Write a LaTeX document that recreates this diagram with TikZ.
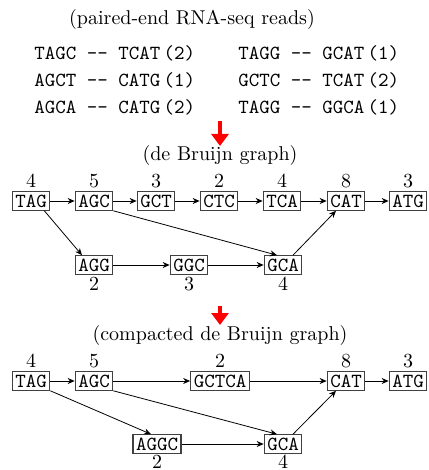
\documentclass[tikz,border=0pt]{standalone}
\usetikzlibrary{arrows.meta}
\begin{document}
\begin{tikzpicture}[x=0.5pt,y=-0.5pt,
  kmer/.style={draw=black!75,line width=0.6pt,font=\ttfamily,inner sep=1.5pt,text height=6.2pt,text depth=0pt},
  edge/.style={-{Stealth[length=3.5pt,width=3pt]},line width=0.4pt},
  bigarrow/.style={red,line width=2pt,-{Triangle[length=6pt,width=8.5pt]}},
  lbl/.style={inner sep=0pt},
  read/.style={font=\ttfamily,anchor=west,inner sep=0pt}]
\useasboundingbox (0,0) rectangle (428,470);
% reads
\node[lbl] (t1) at (192,20) {(paired-end RNA-seq reads)};
\node[read] (r1) at (34,53) {TAGC -- TCAT\,(2)};
\node[read] (r2) at (34,80) {AGCT -- CATG\,(1)};
\node[read] (r3) at (34,107) {AGCA -- CATG\,(2)};
\node[read] (r4) at (238,53) {TAGG -- GCAT\,(1)};
\node[read] (r5) at (238,80) {GCTC -- TCAT\,(2)};
\node[read] (r6) at (238,107) {TAGG -- GGCA\,(1)};
\coordinate (a1s) at (220,121);
\coordinate (a1e) at (220,146);
\draw[bigarrow] (a1s) -- (a1e);
\node[lbl] (t2) at (220,156) {(de Bruijn graph)};
% graph 1
\node[kmer] (TAG) at (31,201) {TAG};
\node[kmer] (AGC) at (94,201) {AGC};
\node[kmer] (GCT) at (156,201) {GCT};
\node[kmer] (CTC) at (219,201) {CTC};
\node[kmer] (TCA) at (282,201) {TCA};
\node[kmer] (CAT) at (346,201) {CAT};
\node[kmer] (ATG) at (408,201) {ATG};
\node[kmer] (AGG) at (94,265) {AGG};
\node[kmer] (GGC) at (189,265) {GGC};
\node[kmer] (GCA) at (283,265) {GCA};
\foreach \n/\v in {TAG/4,AGC/5,GCT/3,CTC/2,TCA/4,CAT/8,ATG/3}
  \node[lbl,anchor=south] (l\n) at ([yshift=1.5pt]\n.north) {\v};
\foreach \n/\v in {AGG/2,GGC/3,GCA/4}
  \node[lbl,anchor=north] (l\n) at ([yshift=-1pt]\n.south) {\v};
\draw[edge] (TAG) -- (AGC);
\draw[edge] (AGC) -- (GCT);
\draw[edge] (GCT) -- (CTC);
\draw[edge] (CTC) -- (TCA);
\draw[edge] (TCA) -- (CAT);
\draw[edge] (CAT) -- (ATG);
\draw[edge] (AGG) -- (GGC);
\draw[edge] (GGC) -- (GCA);
\draw[edge] ([xshift=-3pt]TAG.south east) -- ([xshift=-6pt]AGG.north);
\draw[edge] (AGC.south east) -- ([xshift=-3pt]GCA.north);
\draw[edge] ([xshift=5pt]GCA.north) -- ([xshift=-5pt]CAT.south);
% arrow 2
\coordinate (a2s) at (220,306);
\coordinate (a2e) at (220,325);
\draw[bigarrow] (a2s) -- (a2e);
\node[lbl] (t3) at (220,335) {(compacted de Bruijn graph)};
% graph 2
\node[kmer] (TAGb) at (31,381) {TAG};
\node[kmer] (AGCb) at (94,381) {AGC};
\node[kmer] (GCTCA) at (220,381) {GCTCA};
\node[kmer] (CATb) at (346,381) {CAT};
\node[kmer] (ATGb) at (408,381) {ATG};
\node[kmer] (AGGC) at (157,444) {AGGC};
\node[kmer] (GCAb) at (283,444) {GCA};
\foreach \n/\v in {TAGb/4,AGCb/5,GCTCA/2,CATb/8,ATGb/3}
  \node[lbl,anchor=south] (l\n) at ([yshift=1.5pt]\n.north) {\v};
\foreach \n/\v in {AGGC/2,GCAb/4}
  \node[lbl,anchor=north] (l\n) at ([yshift=-0.5pt]\n.south) {\v};
\draw[edge] (TAGb) -- (AGCb);
\draw[edge] (AGCb) -- (GCTCA);
\draw[edge] (GCTCA) -- (CATb);
\draw[edge] (CATb) -- (ATGb);
\draw[edge] (AGGC) -- (GCAb);
\draw[edge] (TAGb.south east) -- ([xshift=-3pt]AGGC.north);
\draw[edge] (AGCb.south east) -- ([xshift=-3pt]GCAb.north);
\draw[edge] ([xshift=5pt]GCAb.north) -- ([xshift=-5pt]CATb.south);
\end{tikzpicture}
\end{document}
